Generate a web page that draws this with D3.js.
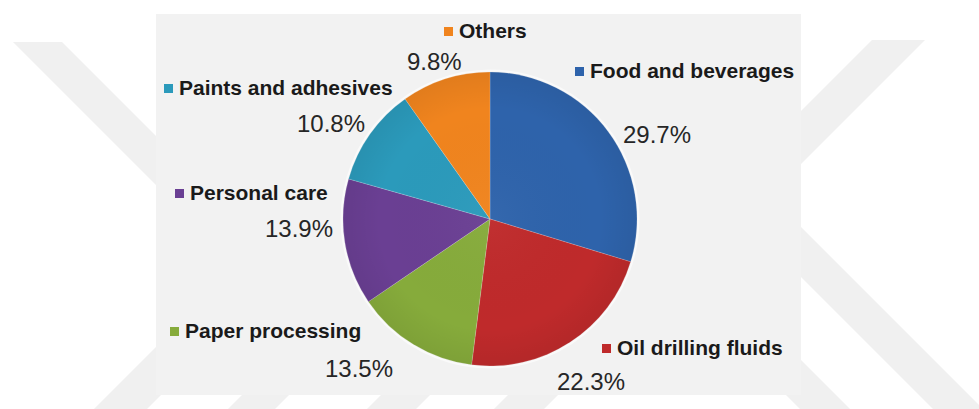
<!DOCTYPE html>
<html>
<head>
<meta charset="utf-8">
<script src="https://cdn.jsdelivr.net/npm/d3@7"></script>
<style>
  html, body { margin: 0; padding: 0; background: #ffffff; }
  svg { display: block; }
</style>
</head>
<body>
<svg id="chart" width="979" height="409"></svg>
<script>
// Market share by end-use sector (%)
const categories = [
  "Food and beverages",
  "Oil drilling fluids",
  "Paper processing",
  "Personal care",
  "Paints and adhesives",
  "Others"
];
const shares = [29.7, 22.3, 13.5, 13.9, 10.8, 9.8];
const sliceColors = ["#2e63ab", "#bf2a2b", "#86ab3b", "#6a3f93", "#2b9abb", "#f0841e"];

// Label placement: name line (text start, baseline) and percent line (text start, baseline)
const labelLayout = [
  { nx: 590, ny: 78,  px: 623, py: 143 },
  { nx: 617, ny: 355, px: 557, py: 390 },
  { nx: 185, ny: 338, px: 325, py: 377 },
  { nx: 190, ny: 200, px: 265, py: 237 },
  { nx: 179, ny: 95,  px: 297, py: 132 },
  { nx: 459, ny: 38,  px: 407, py: 70 }
];

const data = categories.map((c, i) => ({ name: c, value: shares[i], color: sliceColors[i] }));

const svg = d3.select("#chart");

// Background mark: diagonal light bands
const bands = [
  [[13, 42], [62, 42], [240, 220], [191, 220]],
  [[94, 409], [147, 409], [267, 289], [214, 289]],
  [[228, 409], [275, 409], [375, 309], [328, 309]],
  [[367, 409], [416, 409], [516, 309], [467, 309]],
  [[494, 409], [544, 409], [644, 309], [594, 309]],
  [[700, 309], [750, 309], [850, 409], [800, 409]],
  [[872, 40], [925, 40], [725, 240], [672, 240]],
  [[751, 177], [1000, 426], [950, 426], [751, 227]]
];
svg.append("g")
  .selectAll("polygon")
  .data(bands)
  .join("polygon")
  .attr("points", d => d.map(p => p.join(",")).join(" "))
  .attr("fill", "#f0f0f0");

// Chart panel
svg.append("rect")
  .attr("x", 156).attr("y", 14)
  .attr("width", 645).attr("height", 381)
  .attr("fill", "#f2f2f2");

const cx = 490, cy = 219, R = 147;

const defs = svg.append("defs");
const shade = defs.append("radialGradient")
  .attr("id", "pieShade")
  .attr("cx", 0).attr("cy", 0).attr("r", R)
  .attr("gradientUnits", "userSpaceOnUse");
shade.append("stop").attr("offset", "0%").attr("stop-color", "#ffffff").attr("stop-opacity", 0.03);
shade.append("stop").attr("offset", "75%").attr("stop-color", "#000000").attr("stop-opacity", 0.0);
shade.append("stop").attr("offset", "100%").attr("stop-color", "#000000").attr("stop-opacity", 0.06);

const pie = d3.pie().sort(null).value(d => d.value);
const arc = d3.arc().innerRadius(0).outerRadius(R);
const arcs = pie(data);

const g = svg.append("g").attr("transform", `translate(${cx},${cy})`);

// soft rim around the pie
g.append("circle").attr("r", R + 1.5).attr("fill", "none")
  .attr("stroke", "#ffffff").attr("stroke-width", 2).attr("opacity", 0.6);

g.selectAll("path.slice")
  .data(arcs)
  .join("path")
  .attr("class", "slice")
  .attr("d", arc)
  .attr("fill", d => d.data.color)
  .attr("stroke", "rgba(255,255,255,0.25)")
  .attr("stroke-width", 0.7);

g.append("circle").attr("r", R).attr("fill", "url(#pieShade)");

// Data labels: colour key + category name, then percentage
const labels = svg.append("g").selectAll("g.label")
  .data(arcs)
  .join("g")
  .attr("class", "label");

labels.append("rect")
  .attr("x", (d, i) => labelLayout[i].nx - 15)
  .attr("y", (d, i) => labelLayout[i].ny - 11)
  .attr("width", 9).attr("height", 9)
  .attr("fill", d => d.data.color);

labels.append("text")
  .attr("x", (d, i) => labelLayout[i].nx)
  .attr("y", (d, i) => labelLayout[i].ny)
  .attr("font-family", "'Liberation Sans', Arial, sans-serif")
  .attr("font-weight", "bold")
  .attr("font-size", 21)
  .attr("fill", "#1a1a1a")
  .text(d => d.data.name);

labels.append("text")
  .attr("x", (d, i) => labelLayout[i].px)
  .attr("y", (d, i) => labelLayout[i].py)
  .attr("font-family", "'Liberation Sans', Arial, sans-serif")
  .attr("font-size", 24)
  .attr("fill", "#262626")
  .text(d => d3.format(".1f")(d.data.value) + "%");
</script>
</body>
</html>
